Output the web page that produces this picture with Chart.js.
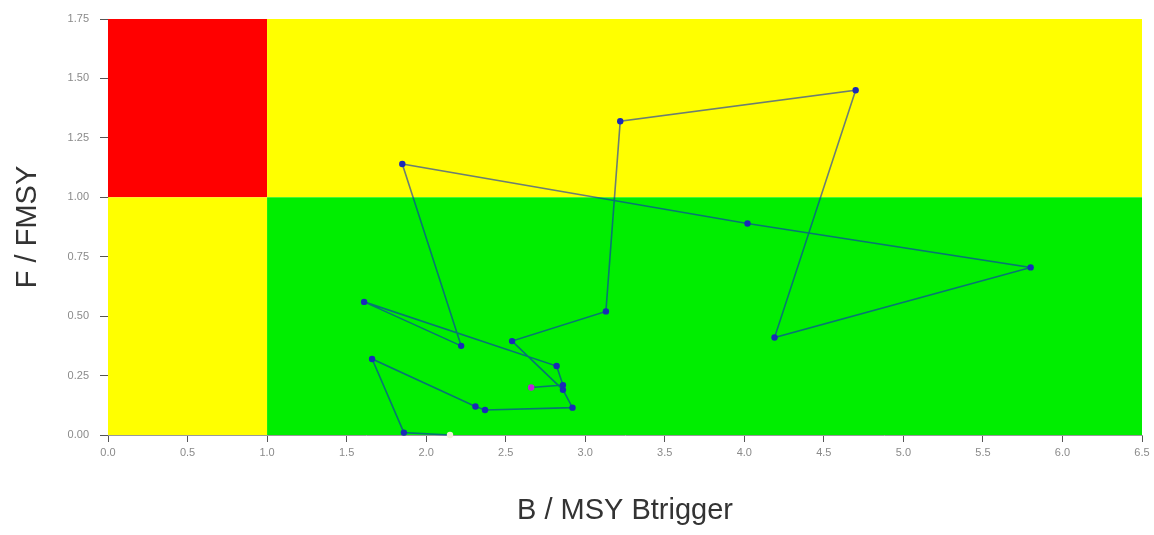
<!DOCTYPE html>
<html>
<head>
<meta charset="utf-8">
<script src="https://cdn.jsdelivr.net/npm/chart.js@4.4.1/dist/chart.umd.min.js"></script>
<style>
  html, body { margin: 0; padding: 0; background: #fff; }
  #grafico { display: block; }
</style>
</head>
<body>
<canvas id="grafico" width="1154" height="535"></canvas>
<script>
/* ---------------------------------------------------
   DATOS
--------------------------------------------------- */
const bRatio = [2.15, 1.86, 1.66, 2.31, 2.37, 2.92, 2.86, 2.54, 3.13, 3.22, 4.70, 4.19, 5.80, 4.02, 1.85, 2.22, 1.61, 2.82, 2.86, 2.66];
const fRatio = [0.00, 0.01, 0.32, 0.12, 0.105, 0.115, 0.19, 0.395, 0.52, 1.32, 1.45, 0.41, 0.705, 0.89, 1.14, 0.375, 0.56, 0.29, 0.21, 0.20];

const xTicks = [0, 0.5, 1, 1.5, 2, 2.5, 3, 3.5, 4, 4.5, 5, 5.5, 6, 6.5];
const yTicks = [0, 0.25, 0.5, 0.75, 1, 1.25, 1.5, 1.75];

// puntos de referencia (B/MSY Btrigger = 1, F/FMSY = 1)
const bRef = 1;
const fRef = 1;

/* ---------------------------------------------------
   FONDO DE COLORES (zonas)
--------------------------------------------------- */
const zonas = {
  id: "zonas",
  beforeDatasetsDraw(chart) {
    const { ctx, chartArea: a, scales } = chart;
    const x = scales.x, y = scales.y;
    const xr = x.getPixelForValue(bRef);
    const yr = y.getPixelForValue(fRef);

    ctx.save();
    ctx.fillStyle = "#ff0000";
    ctx.fillRect(a.left, a.top, xr - a.left, yr - a.top);
    ctx.fillStyle = "#ffff00";
    ctx.fillRect(xr, a.top, a.right - xr, yr - a.top);
    ctx.fillRect(a.left, yr, xr - a.left, a.bottom - yr);
    ctx.fillStyle = "#00ee00";
    ctx.fillRect(xr, yr, a.right - xr, a.bottom - yr);
    ctx.restore();
  },
};

/* ---------------------------------------------------
   GRAFICO
--------------------------------------------------- */
const puntos = bRatio.map((b, i) => ({ x: b, y: fRatio[i] }));
const ultimo = puntos.length - 1;

const colorPunto = (c) => {
  if (c.dataIndex === 0) return "#f4f0dc";
  if (c.dataIndex === ultimo) return "#c020d8";
  return "#1a2ab8";
};

new Chart(document.getElementById("grafico"), {
  type: "scatter",
  data: {
    datasets: [
      {
        data: puntos,
        showLine: true,
        borderColor: "rgba(10,40,190,0.6)",
        borderWidth: 1.6,
        pointRadius: 3.2,
        pointHoverRadius: 3.2,
        pointBorderWidth: 0,
        pointBackgroundColor: colorPunto,
        clip: false,
      },
    ],
  },
  options: {
    responsive: false,
    animation: false,
    devicePixelRatio: 1,
    layout: { padding: { top: 19, right: 12, bottom: 0, left: 0 } },
    plugins: { legend: { display: false }, tooltip: { enabled: false } },
    scales: {
      x: {
        type: "linear",
        min: 0,
        max: 6.5,
        afterFit: (s) => { s.height = 100; },
        afterBuildTicks: (s) => { s.ticks = xTicks.map((v) => ({ value: v })); },
        ticks: {
          callback: (v) => v.toFixed(1),
          color: "#8a8a8a",
          font: { family: "Liberation Sans", size: 11 },
          padding: 4,
          maxRotation: 0,
        },
        grid: { drawOnChartArea: false, tickLength: 7, color: "#555" },
        border: { color: "#999", width: 1 },
        title: {
          display: true,
          text: "B / MSY Btrigger",
          color: "#333",
          font: { family: "Liberation Sans", size: 29, lineHeight: 1 },
          padding: { top: 0, bottom: 10 },
        },
      },
      y: {
        min: 0,
        max: 1.75,
        afterFit: (s) => { s.width = 108; },
        afterBuildTicks: (s) => { s.ticks = yTicks.map((v) => ({ value: v })); },
        ticks: {
          callback: (v) => v.toFixed(2),
          color: "#8a8a8a",
          font: { family: "Liberation Sans", size: 11 },
          padding: 11,
        },
        grid: { drawOnChartArea: false, tickLength: 8, color: "#555" },
        border: { color: "#999", width: 1 },
        title: {
          display: true,
          text: "F / FMSY",
          color: "#333",
          font: { family: "Liberation Sans", size: 29, lineHeight: 1 },
          padding: { top: 13, bottom: 0 },
        },
      },
    },
  },
  plugins: [zonas],
});
</script>
</body>
</html>
